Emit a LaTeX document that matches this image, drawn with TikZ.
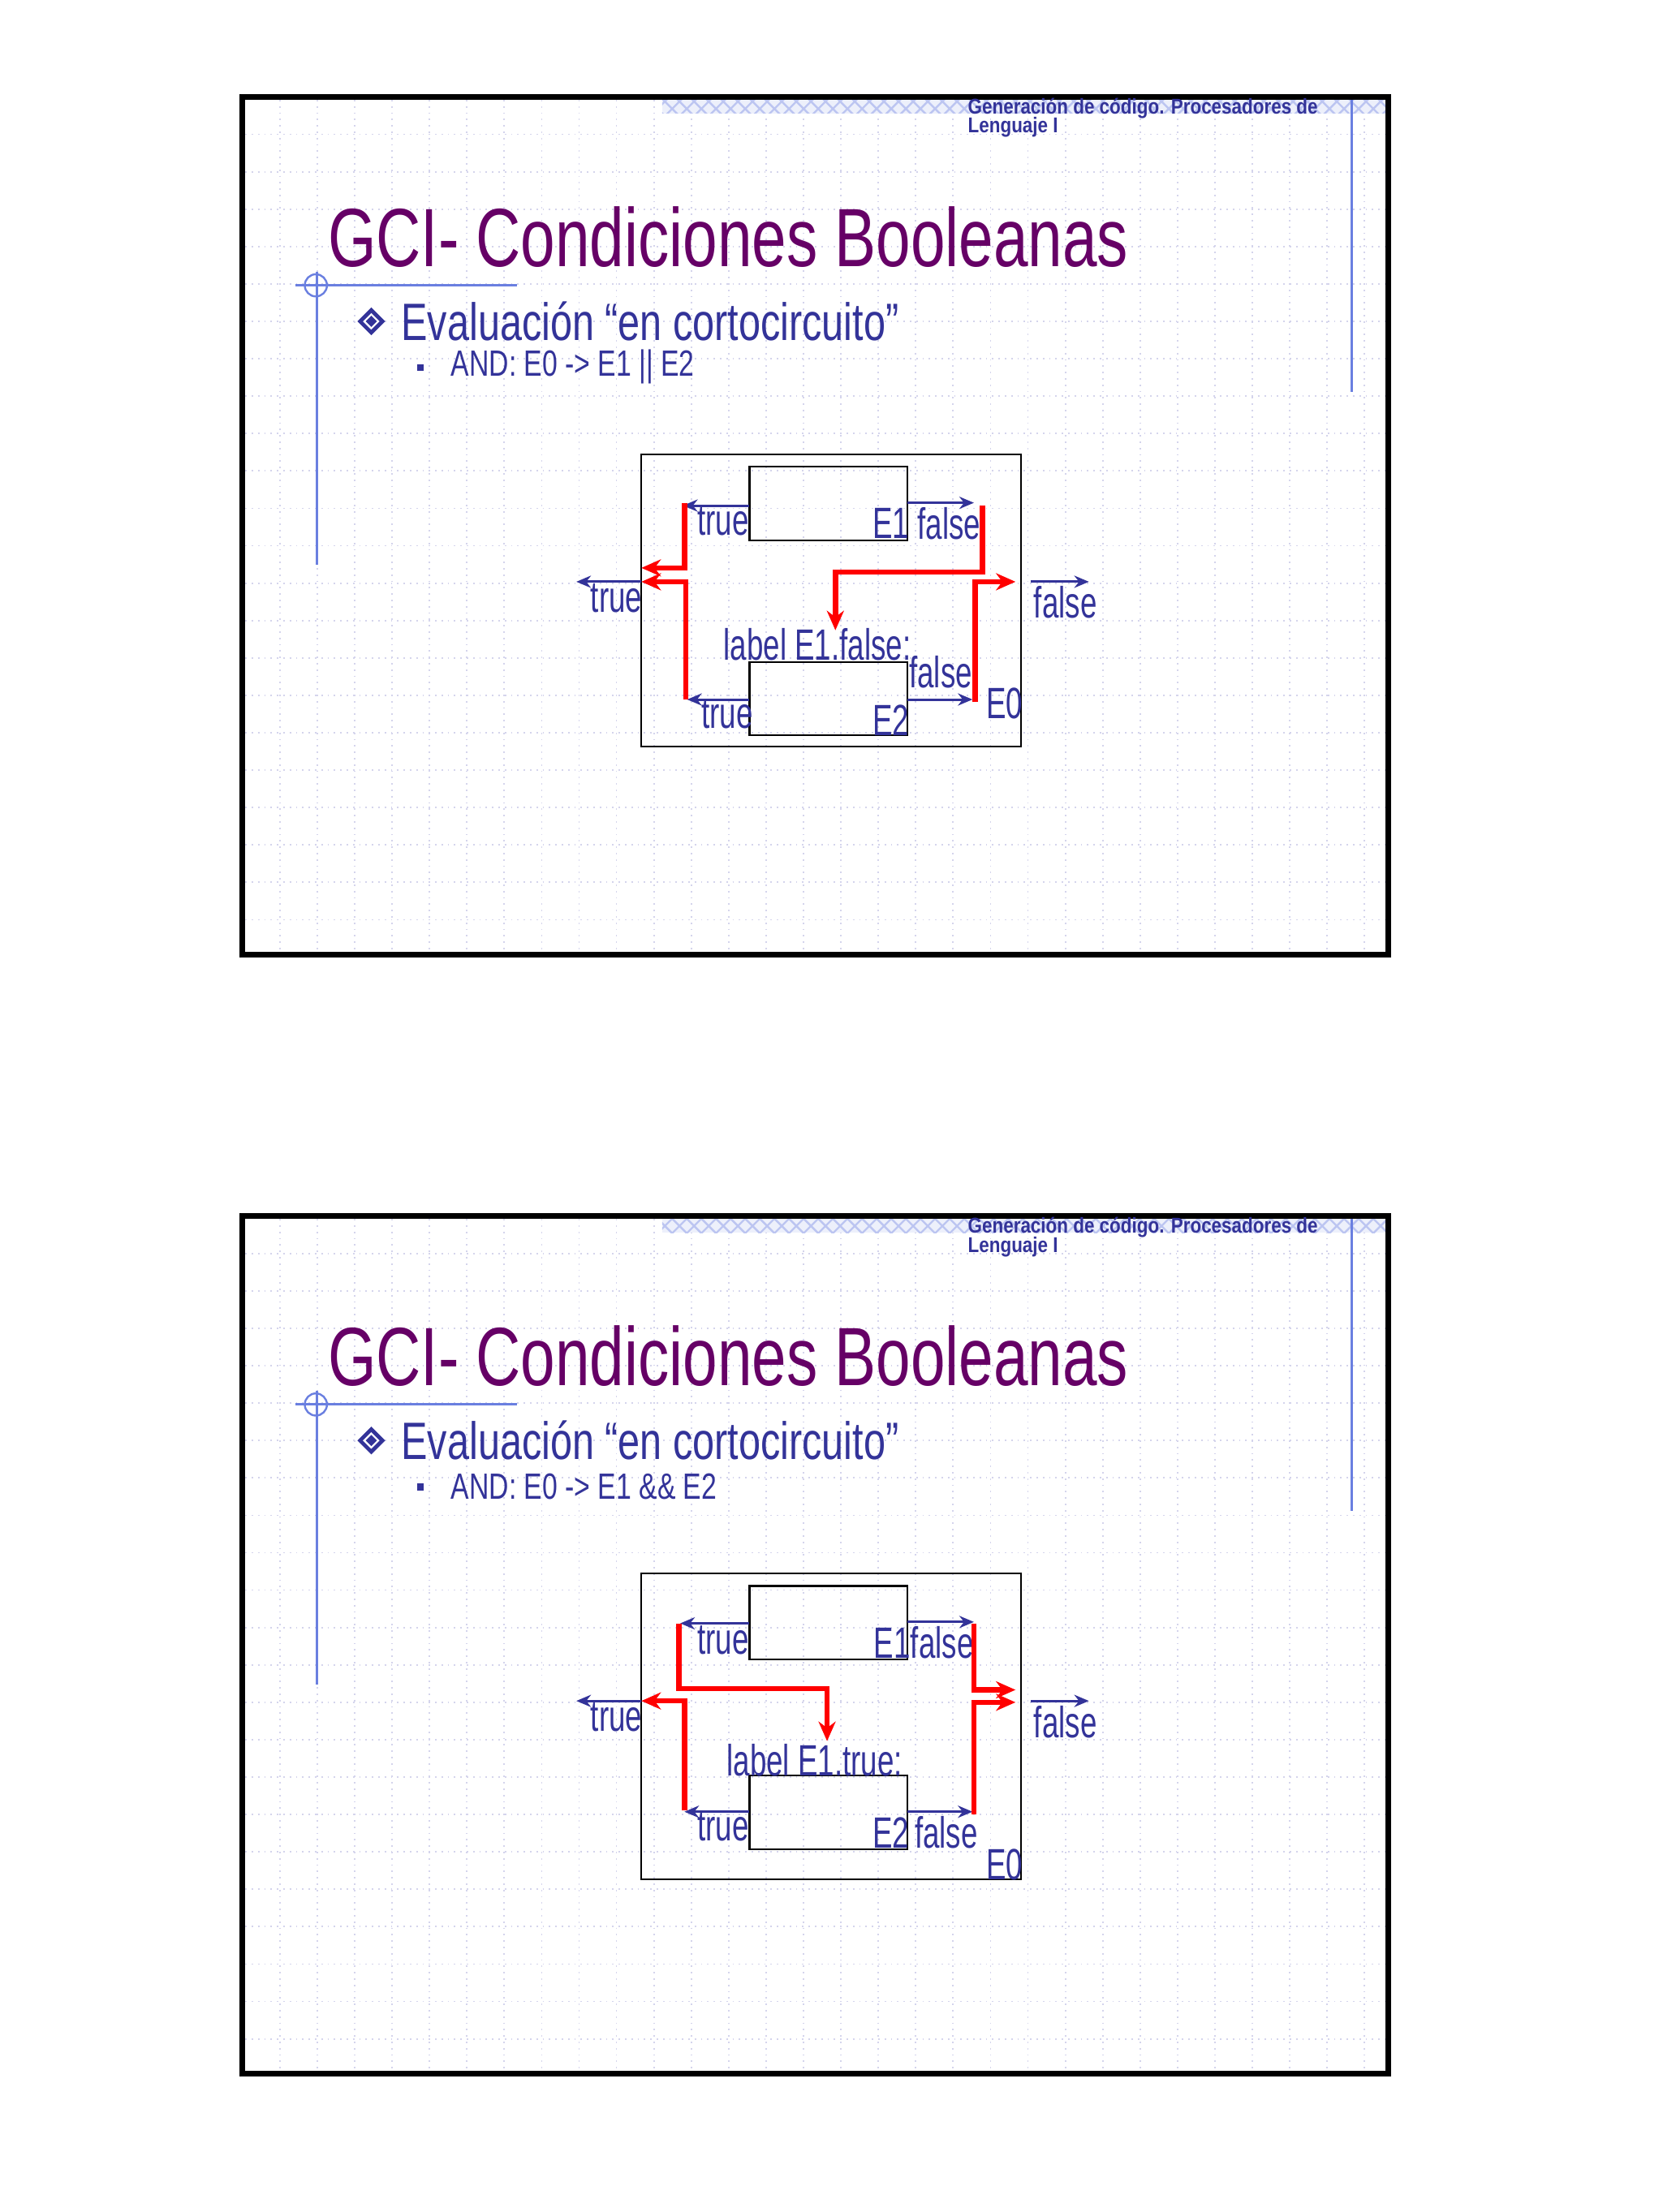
\documentclass[tikz,border=0pt]{standalone}
\usepackage{fontspec}
\setmainfont{Liberation Sans}
\newfontfamily\cond[FakeStretch=0.68]{Liberation Sans}
\newfontfamily\condb[FakeStretch=0.75]{Liberation Sans}
\newfontfamily\condh[FakeStretch=0.85]{Liberation Sans}
\usetikzlibrary{patterns,arrows.meta}
\definecolor{ttl}{HTML}{660066}
\definecolor{txt}{HTML}{333399}
\definecolor{grd}{HTML}{D4D4EC}
\definecolor{deco}{HTML}{6A7FE0}
\tikzset{
  txtn/.style={text=txt,inner sep=0pt,font=\cond\fontsize{9}{10}\selectfont},
  box/.style={draw=black,line width=0.35pt,inner sep=0pt,outer sep=0pt},
  barr/.style={draw=txt,line width=0.5pt,-{Stealth[length=3pt,width=2.5pt]}},
  rarr/.style={draw=red,line width=1.1pt,-{Stealth[length=4pt,width=3.5pt]}}
}
\newcommand{\slidebg}{%
  \fill[white] (175,70) rectangle (1002,689);
  \foreach \gx in {202,229,...,1000} \draw[grd,densely dotted,line width=0.3pt] (\gx,72)--(\gx,687);
  \foreach \gy in {97,124,...,687} \draw[grd,densely dotted,line width=0.3pt] (177,\gy)--(1000,\gy);
  \fill[deco!12] (478,72) rectangle (1000,82);
  \fill[pattern=crosshatch,pattern color=deco!45] (478,72) rectangle (1000,82);
  \draw[deco,line width=0.5pt] (976,70)--(976,283);
  \draw[deco,line width=0.5pt] (213,206)--(373,206);
  \draw[deco,line width=0.4pt] (228,206) circle (8);
  \draw[deco,line width=0.5pt] (229,196)--(229,408);
  \draw[black,line width=1.2pt] (175,70) rectangle (1002,689);
  \node[anchor=west,inner sep=0pt,text=txt,font=\condh\bfseries\fontsize{4.4}{5}\selectfont] at (698,78) {Generación de código. Procesadores de};
  \node[anchor=west,inner sep=0pt,text=txt,font=\condh\bfseries\fontsize{4.4}{5}\selectfont] at (698,92) {Lenguaje I};
  \node[anchor=west,inner sep=0pt,text=ttl,font=\condb\fontsize{17}{19}\selectfont] at (236,171) {GCI- Condiciones Booleanas};
  \fill[txt] (258,232)--(268,222)--(278,232)--(268,242)--cycle;
  \fill[white] (262,232)--(268,226)--(274,232)--(268,238)--cycle;
  \fill[txt] (264,232)--(268,228)--(272,232)--(268,236)--cycle;
  \node[anchor=west,inner sep=0pt,text=txt,font=\condb\fontsize{10.8}{12}\selectfont] at (289,232) {Evaluación “en cortocircuito”};
  \fill[txt] (301,263) rectangle (306,268);
}
\begin{document}
\begin{tikzpicture}[x=0.1mm,y=-0.1mm]
\useasboundingbox (0,0) rectangle (1200,1597);
\fill[white] (0,0) rectangle (1200,1597);
\slidebg
\begin{scope}[yshift=-80.8mm]\slidebg\end{scope}
\node[anchor=west,txtn,font=\condb\fontsize{7.5}{8}\selectfont] at (325,265) {AND: E0 -> E1 || E2};
\node[anchor=west,txtn,font=\condb\fontsize{7.5}{8}\selectfont] at (325,1073) {AND: E0 -> E1 \&\& E2};

% ---- diagram 1
\node[box,minimum width=27.4mm,minimum height=21.1mm,anchor=north west] (o1) at (463,328) {};
\node[box,minimum width=11.4mm,minimum height=5.3mm,anchor=north west] (a1) at (541,337) {};
\node[box,minimum width=11.4mm,minimum height=5.3mm,anchor=north west] (b1) at (541,478) {};
\coordinate (a1tl) at (493,365); \coordinate (a1fr) at (703,363);
\coordinate (b1tl) at (496,505); \coordinate (b1fr) at (702,505);
\coordinate (o1l) at (416,420); \coordinate (o1r) at (786,420);
\draw[barr] (a1.west |- a1tl) -- (a1tl);
\draw[barr] (a1.east |- a1fr) -- (a1fr);
\draw[barr] (b1.west |- b1tl) -- (b1tl);
\draw[barr] (b1.east |- b1fr) -- (b1fr);
\draw[barr] (o1.west |- o1l) -- (o1l);
\draw[barr] ([xshift=2]o1.east |- o1r) -- (o1r);
\node[txtn] at (522,376) {true};
\node[txtn] at (643,378) {E1};
\node[txtn] at (685,378) {false};
\node[txtn] at (445,432) {true};
\node[txtn] at (769,435) {false};
\node[txtn] at (525,516) {true};
\node[txtn] at (679,485) {false};
\node[txtn] at (643,520) {E2};
\node[txtn] at (725,508) {E0};
\node[txtn] (l1) at (590,465) {label E1.false:};
\draw[rarr] (494,363)--(494,410)--(o1.west |- 0,410);
\draw[rarr] (709,365)--(709,413)--(603,413)--(603,455);
\draw[rarr] (495,505)--(495,420)--(o1.west |- 0,420);
\draw[rarr] (704,507)--(704,420)--(733,420);

% ---- diagram 2
\node[box,minimum width=27.4mm,minimum height=22.1mm,anchor=north west] (o2) at (463,1136) {};
\node[box,minimum width=11.4mm,minimum height=5.3mm,anchor=north west] (a2) at (541,1145) {};
\node[box,minimum width=11.4mm,minimum height=5.3mm,anchor=north west] (b2) at (541,1282) {};
\coordinate (a2tl) at (491,1172); \coordinate (a2fr) at (703,1171);
\coordinate (b2tl) at (494,1308); \coordinate (b2fr) at (702,1308);
\coordinate (o2l) at (416,1228); \coordinate (o2r) at (786,1228);
\draw[barr] (a2.west |- a2tl) -- (a2tl);
\draw[barr] (a2.east |- a2fr) -- (a2fr);
\draw[barr] (b2.west |- b2tl) -- (b2tl);
\draw[barr] (b2.east |- b2fr) -- (b2fr);
\draw[barr] (o2.west |- o2l) -- (o2l);
\draw[barr] ([xshift=2]o2.east |- o2r) -- (o2r);
\node[txtn] at (522,1184) {true};
\node[txtn] at (644,1186) {E1};
\node[txtn] at (680,1186) {false};
\node[txtn] at (445,1240) {true};
\node[txtn] at (769,1243) {false};
\node[txtn] at (522,1319) {true};
\node[txtn] at (643,1323) {E2};
\node[txtn] at (683,1323) {false};
\node[txtn] at (725,1346) {E0};
\node[txtn] (l2) at (588,1271) {label E1.true:};
\draw[rarr] (490,1172)--(490,1219)--(597,1219)--(597,1257);
\draw[rarr] (703,1172)--(703,1220)--(733,1220);
\draw[rarr] (494,1307)--(494,1228)--(o2.west |- 0,1228);
\draw[rarr] (703,1310)--(703,1229)--(733,1229);
\end{tikzpicture}
\end{document}
